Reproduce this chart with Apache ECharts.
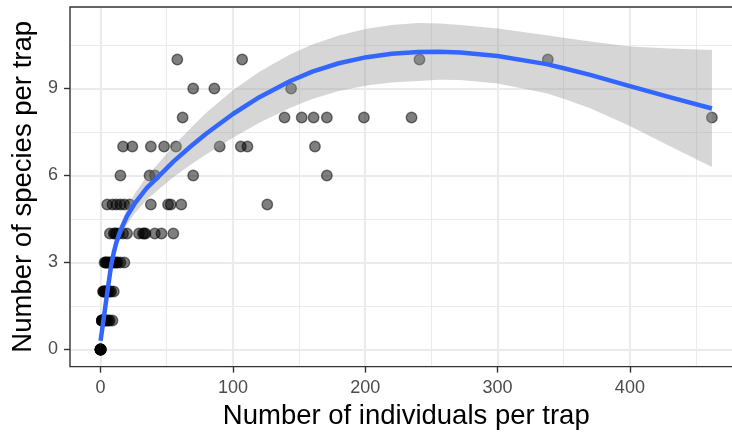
<!DOCTYPE html>
<html>
<head>
<meta charset="utf-8">
<script src="https://cdn.jsdelivr.net/npm/echarts@6/dist/echarts.min.js"></script>
<style>
  html, body { margin: 0; padding: 0; background: #ffffff; }
  #chart { width: 732px; height: 434px; }
</style>
</head>
<body>
<div id="chart"></div>
<script>
// Observed traps: individuals caught vs. number of species
const trapIndividuals = [
  0, 0, 0, 0, 0, 0, 0, 0,
  1, 1, 1, 1, 2, 2, 3, 3, 4, 5, 6, 7, 9,
  2, 2, 3, 3, 4, 4, 5, 6, 7, 8, 10,
  3, 4, 4, 5, 6, 7, 8, 9, 10, 11, 12, 13, 15, 18,
  7, 10, 11, 12, 14, 17, 20, 29, 32, 33, 34, 41, 46, 55,
  5, 9, 12, 15, 18, 22, 38, 51, 53, 61, 126,
  15, 37, 41, 70, 171,
  17, 24, 38, 48, 57, 90, 106, 111, 162,
  62, 139, 152, 161, 171, 199, 235, 462,
  70, 86, 144,
  58, 107, 241, 338
];
const trapSpecies = [
  0, 0, 0, 0, 0, 0, 0, 0,
  1, 1, 1, 1, 1, 1, 1, 1, 1, 1, 1, 1, 1,
  2, 2, 2, 2, 2, 2, 2, 2, 2, 2, 2,
  3, 3, 3, 3, 3, 3, 3, 3, 3, 3, 3, 3, 3, 3,
  4, 4, 4, 4, 4, 4, 4, 4, 4, 4, 4, 4, 4, 4,
  5, 5, 5, 5, 5, 5, 5, 5, 5, 5, 5,
  6, 6, 6, 6, 6,
  7, 7, 7, 7, 7, 7, 7, 7, 7,
  8, 8, 8, 8, 8, 8, 8, 8,
  9, 9, 9,
  10, 10, 10, 10
];

// Smoothed trend with its confidence band
const smoothX = [0, 1, 2, 3, 5, 8, 10, 12, 15, 20, 26, 35, 45, 55, 68, 80, 100, 120, 143, 160, 180, 201, 220, 240, 256, 272, 300, 337, 350, 370, 400, 430, 462];
const smoothFit = [0.30, 0.62, 0.95, 1.28, 1.95, 2.90, 3.35, 3.70, 4.10, 4.60, 5.05, 5.57, 6.02, 6.48, 7.00, 7.45, 8.12, 8.70, 9.25, 9.58, 9.87, 10.08, 10.20, 10.26, 10.27, 10.24, 10.12, 9.84, 9.70, 9.47, 9.08, 8.70, 8.31];
const smoothLower = [0.05, 0.41, 0.77, 1.12, 1.80, 2.75, 3.19, 3.52, 3.88, 4.32, 4.71, 5.17, 5.56, 5.94, 6.37, 6.73, 7.30, 7.82, 8.33, 8.64, 8.91, 9.10, 9.21, 9.26, 9.30, 9.29, 9.17, 8.84, 8.65, 8.32, 7.71, 7.02, 6.29];
const smoothUpper = [0.55, 0.83, 1.13, 1.44, 2.10, 3.05, 3.51, 3.88, 4.32, 4.88, 5.39, 5.97, 6.48, 7.02, 7.63, 8.17, 8.94, 9.58, 10.17, 10.52, 10.83, 11.06, 11.19, 11.26, 11.24, 11.19, 11.07, 10.84, 10.75, 10.62, 10.45, 10.38, 10.33];

// Axis ticks and grid lines
const xTicks = [0, 100, 200, 300, 400];
const xMinorLines = [50, 150, 250, 350, 450];
const yTicks = [0, 3, 6, 9];
const yMinorLines = [1.5, 4.5, 7.5, 10.5];

const FONT = '"Liberation Sans", Arial, Helvetica, sans-serif';
const GRID_COLOR = '#ebebeb';

const points = trapIndividuals.map((x, i) => [x, trapSpecies[i]]);
const fitLine = smoothX.map((x, i) => [x, smoothFit[i]]);

const gridLines = [];
xTicks.forEach(v => gridLines.push({ xAxis: v, lineStyle: { width: 2.2, color: GRID_COLOR, type: 'solid' } }));
xMinorLines.forEach(v => gridLines.push({ xAxis: v, lineStyle: { width: 1.1, color: GRID_COLOR, type: 'solid' } }));
yTicks.forEach(v => gridLines.push({ yAxis: v, lineStyle: { width: 2.2, color: GRID_COLOR, type: 'solid' } }));
yMinorLines.forEach(v => gridLines.push({ yAxis: v, lineStyle: { width: 1.1, color: GRID_COLOR, type: 'solid' } }));

const chart = echarts.init(document.getElementById('chart'), null, { renderer: 'canvas' });

chart.setOption({
  animation: false,
  backgroundColor: '#ffffff',
  grid: {
    left: 70,
    right: -10.5,
    top: 7,
    bottom: 67.4,
    outerBoundsMode: 'none',
    containLabel: false,
    show: true,
    borderColor: '#333333',
    borderWidth: 1.4,
    backgroundColor: 'transparent',
    z: 10
  },
  xAxis: {
    type: 'value',
    min: -23.1,
    max: 485.1,
    name: 'Number of individuals per trap',
    nameLocation: 'middle',
    nameGap: 36,
    nameTextStyle: { fontFamily: FONT, fontSize: 27.5, color: '#000000' },
    axisLine: { show: false, onZero: false },
    axisTick: { show: true, length: 6, customValues: xTicks, lineStyle: { color: '#333333', width: 1.4 } },
    axisLabel: { customValues: xTicks, fontFamily: FONT, fontSize: 18, color: '#4d4d4d', margin: 12 },
    splitLine: { show: false },
    minorSplitLine: { show: false }
  },
  yAxis: {
    type: 'value',
    min: -0.59,
    max: 11.81,
    name: 'Number of species per trap',
    nameLocation: 'middle',
    nameGap: 30,
    nameTextStyle: { fontFamily: FONT, fontSize: 27.5, color: '#000000' },
    axisLine: { show: false, onZero: false },
    axisTick: { show: true, length: 6, customValues: yTicks, lineStyle: { color: '#333333', width: 1.4 } },
    axisLabel: { customValues: yTicks, fontFamily: FONT, fontSize: 18, color: '#4d4d4d', margin: 12 },
    splitLine: { show: false },
    minorSplitLine: { show: false }
  },
  series: [
    {
      // panel grid lines
      type: 'scatter',
      z: 0,
      silent: true,
      symbolSize: 0,
      data: [],
      markLine: {
        z: 0,
        silent: true,
        symbol: ['none', 'none'],
        label: { show: false },
        emphasis: { disabled: true },
        animation: false,
        data: gridLines
      }
    },
    {
      type: 'scatter',
      z: 2,
      symbol: 'circle',
      symbolSize: 10.5,
      itemStyle: {
        color: 'rgba(0,0,0,0.5)',
        borderColor: 'rgba(0,0,0,0.5)',
        borderWidth: 1.4,
        opacity: 1
      },
      emphasis: { disabled: true },
      data: points
    },
    {
      // confidence band
      type: 'custom',
      z: 3,
      silent: true,
      data: [[0, 0]],
      renderItem: function (params, api) {
        if (params.dataIndex !== 0) return null;
        const pts = [];
        for (let i = 0; i < smoothX.length; i++) pts.push(api.coord([smoothX[i], smoothUpper[i]]));
        for (let i = smoothX.length - 1; i >= 0; i--) pts.push(api.coord([smoothX[i], smoothLower[i]]));
        return {
          type: 'polygon',
          shape: { points: pts },
          style: { fill: 'rgba(153,153,153,0.4)', stroke: null }
        };
      }
    },
    {
      type: 'line',
      z: 4,
      silent: true,
      data: fitLine,
      showSymbol: false,
      smooth: false,
      lineStyle: { color: '#3366ff', width: 4.5, cap: 'butt', join: 'round' }
    }
  ]
});
</script>
</body>
</html>
